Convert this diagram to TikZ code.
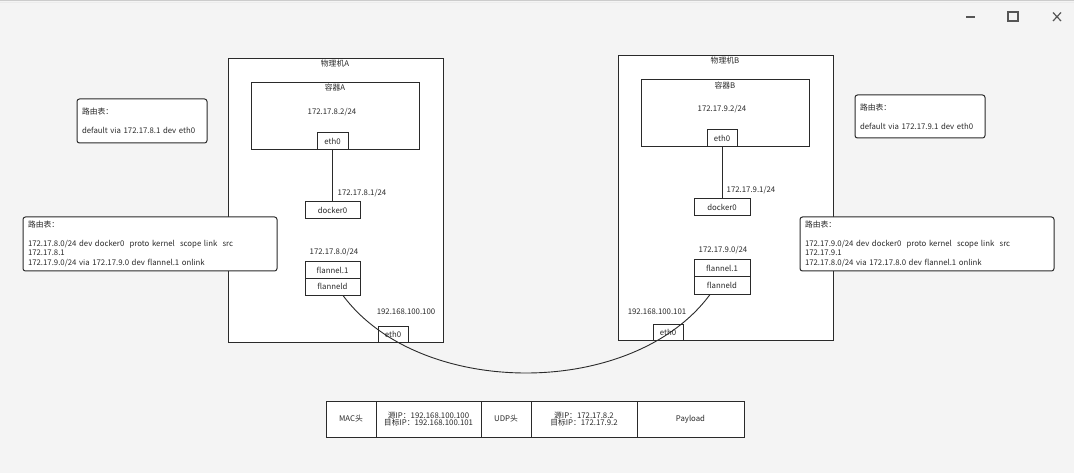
\documentclass[tikz,border=0pt]{standalone}
\usepackage{fontspec}
\setmainfont{Noto Sans CJK SC}
\definecolor{bg}{HTML}{F4F4F4}
\definecolor{ink}{HTML}{2A2A2A}
\definecolor{icon}{HTML}{555555}
\begin{document}
\begin{tikzpicture}[x=1pt,y=-1pt,
  every node/.style={font=\fontsize{7.8}{9.3}\selectfont, text=ink},
  frame/.style={draw=ink, fill=white, line width=1pt, inner sep=0pt},
  iface/.style={frame, minimum height=17pt},
  route/.style={frame, rounded corners=2.5pt, align=left, inner sep=0pt},
  cell/.style={frame, minimum height=36pt, align=center},
  lbl/.style={inner sep=0pt},
  link/.style={draw=ink, line width=1pt},
  win/.style={draw=icon, line width=1.2pt}]
\useasboundingbox (0,0) rectangle (1074,473);
\fill[bg] (0,0) rectangle (1074,473);
\draw[gray!40, line width=1.5pt] (0,0.75) -- (1074,0.75);
\draw[gray!15, line width=1pt] (0,3) -- (1074,3);
% window controls
\draw[win] (966,17) -- (975,17);
\draw[win] (1008,12) rectangle (1018,21);
\draw[win] (1053,12.5) -- (1061,21) (1053,21) -- (1061,12.5);

% ---- machine A ----
\node[frame, minimum width=215pt, minimum height=283pt] (hostA) at (335.5,200.5) {};
\node[lbl] (hostAlbl) at (335,64) {物理机A};
\node[frame, minimum width=168pt, minimum height=67pt] (ctrA) at (335,116.5) {};
\node[lbl] (ctrAlbl) at (335,88) {容器A};
\node[lbl] (ctrAip) at (332,112) {172.17.8.2/24};
\node[iface, minimum width=31pt] (eth0cA) at (332.5,141.5) {eth0};
\node[iface, minimum width=55pt] (dockerA) at (332.5,210.5) {docker0};
\node[lbl] (dockerAip) at (362,193) {172.17.8.1/24};
\node[lbl] (flannelAip) at (334,252) {172.17.8.0/24};
\node[iface, minimum width=55pt, minimum height=16.5pt] (flannelA) at (332.5,270.25) {flannel.1};
\node[iface, minimum width=55pt, minimum height=16.5pt] (flanneldA) at (332.5,286.75) {flanneld};
\node[lbl] (ethAip) at (406,312) {192.168.100.100};
\node[iface, minimum width=30pt, minimum height=16pt] (ethA) at (393,334) {eth0};
\draw[link] (eth0cA.south) -- (dockerA.north);

% ---- machine B ----
\node[frame, minimum width=215pt, minimum height=284pt] (hostB) at (725.5,198) {};
\node[lbl] (hostBlbl) at (725,61) {物理机B};
\node[frame, minimum width=168pt, minimum height=67pt] (ctrB) at (725,113.5) {};
\node[lbl] (ctrBlbl) at (725,86) {容器B};
\node[lbl] (ctrBip) at (722,109) {172.17.9.2/24};
\node[iface, minimum width=30pt] (eth0cB) at (722,138.5) {eth0};
\node[iface, minimum width=56pt] (dockerB) at (722,207.5) {docker0};
\node[lbl] (dockerBip) at (751,190) {172.17.9.1/24};
\node[lbl] (flannelBip) at (723,250) {172.17.9.0/24};
\node[iface, minimum width=56pt, minimum height=17pt] (flannelB) at (722,268.5) {flannel.1};
\node[iface, minimum width=56pt, minimum height=17pt] (flanneldB) at (722,285.5) {flanneld};
\node[lbl] (ethBip) at (657,312) {192.168.100.101};
\node[iface, minimum width=30pt, minimum height=16pt] (ethB) at (668,332) {eth0};
\draw[link] (eth0cB.south) -- (dockerB.north);

% ---- tunnel curve ----
\draw[draw=ink, line width=0.9pt] ([xshift=10.5pt]flanneldA.south) .. controls (420,399) and (633,399) .. ([xshift=-12pt]flanneldB.south);

% ---- route tables ----
\node[route, minimum width=130pt, minimum height=44pt, text width=120pt] (rtA1) at (142,121) {路由表：\\[9.3pt]default via 172.17.8.1 dev eth0};
\node[route, minimum width=254pt, minimum height=54pt, text width=244pt] (rtA2) at (150,244) {路由表：\\[9.3pt]172.17.8.0/24 dev docker0\ \ proto kernel\ \ scope link\ \ src\\172.17.8.1\\172.17.9.0/24 via 172.17.9.0 dev flannel.1 onlink};
\node[route, minimum width=130pt, minimum height=43pt, text width=120pt] (rtB1) at (920,116.5) {路由表：\\[9.3pt]default via 172.17.9.1 dev eth0};
\node[route, minimum width=254pt, minimum height=54pt, text width=244pt] (rtB2) at (927,244) {路由表：\\[9.3pt]172.17.9.0/24 dev docker0\ \ proto kernel\ \ scope link\ \ src\\172.17.9.1\\172.17.8.0/24 via 172.17.8.0 dev flannel.1 onlink};

% ---- packet ----
\node[cell, minimum width=50pt] (mac) at (351,419) {MAC头};
\node[cell, minimum width=105pt] (outerip) at (428.5,419) {源IP：192.168.100.100\\[-1.5pt]目标IP：192.168.100.101};
\node[cell, minimum width=50pt] (udp) at (506,419) {UDP头};
\node[cell, minimum width=106pt] (innerip) at (584,419) {源IP：172.17.8.2\\[-1.5pt]目标IP：172.17.9.2};
\node[cell, minimum width=107pt] (payload) at (690.5,419) {Payload};
\end{tikzpicture}
\end{document}
